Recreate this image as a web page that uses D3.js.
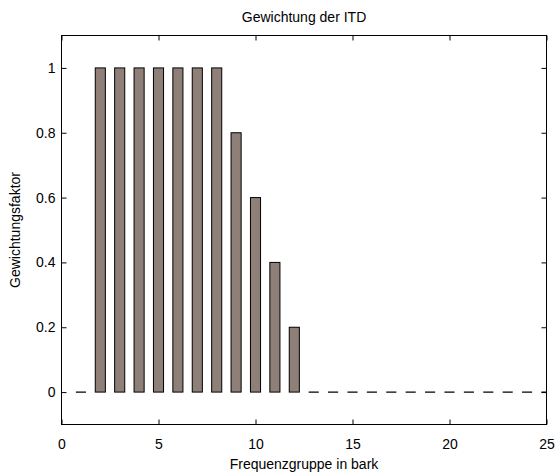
<!DOCTYPE html>
<html>
<head>
<meta charset="utf-8">
<script src="https://cdn.jsdelivr.net/npm/d3@7"></script>
<style>
  body { margin: 0; background: #fff; }
  svg text { font-family: "Liberation Sans", Arial, sans-serif; font-size: 14px; fill: #000; }
</style>
</head>
<body>
<svg id="chart" width="555" height="472"></svg>
<script>
// Frequenzgruppen (bark) und Gewichtungsfaktoren
const bands = [1, 2, 3, 4, 5, 6, 7, 8, 9, 10, 11, 12, 13, 14, 15, 16, 17, 18, 19, 20, 21, 22, 23, 24, 25];
const weights = [0, 1, 1, 1, 1, 1, 1, 1, 0.8, 0.6, 0.4, 0.2, 0, 0, 0, 0, 0, 0, 0, 0, 0, 0, 0, 0, 0];
const xTicks = [0, 5, 10, 15, 20, 25];
const yTicks = [0, 0.2, 0.4, 0.6, 0.8, 1];

const margin = { top: 35.5, right: 8.5, bottom: 47.5, left: 61.5 };
const width = 555 - margin.left - margin.right;
const height = 472 - margin.top - margin.bottom;

const svg = d3.select('#chart');
const g = svg.append('g').attr('transform', `translate(${margin.left},${margin.top})`);

const x = d3.scaleLinear().domain([0, 25]).range([0, width]);
const y = d3.scaleLinear().domain([-0.1, 1.1]).range([height, 0]);

const barW = x(0.52) - x(0);

g.append('clipPath').attr('id', 'clip')
  .append('rect').attr('width', width).attr('height', height);

// bars (zero-height bars show up as short dashes at y = 0)
const bars = g.append('g').attr('clip-path', 'url(#clip)');
bands.forEach((b, i) => {
  const v = weights[i];
  if (v === 0) {
    bars.append('line')
      .attr('x1', x(b) - barW / 2).attr('x2', x(b) + barW / 2)
      .attr('y1', y(0)).attr('y2', y(0))
      .attr('stroke', '#000').attr('stroke-width', 1.3);
  } else {
    bars.append('rect')
      .attr('x', x(b) - barW / 2)
      .attr('y', y(v))
      .attr('width', barW)
      .attr('height', y(0) - y(v))
      .attr('fill', '#8e8079')
      .attr('stroke', '#000')
      .attr('stroke-width', 1);
  }
});

// axes with inward ticks, mirrored on top and right
const tick = 5;
const axisStyle = sel => {
  sel.select('.domain').remove();
  sel.selectAll('.tick line').attr('stroke', '#000');
};
g.append('g').attr('transform', `translate(0,${height})`)
  .call(d3.axisBottom(x).tickValues(xTicks).tickSize(-tick).tickPadding(15).tickFormat(d3.format('d')))
  .call(axisStyle);
g.append('g')
  .call(d3.axisTop(x).tickValues(xTicks).tickSize(-tick).tickFormat(''))
  .call(axisStyle);
g.append('g')
  .call(d3.axisLeft(y).tickValues(yTicks).tickSize(-tick).tickPadding(6).tickFormat(d => String(d)))
  .call(axisStyle);
g.append('g').attr('transform', `translate(${width},0)`)
  .call(d3.axisRight(y).tickValues(yTicks).tickSize(-tick).tickFormat(''))
  .call(axisStyle);
g.selectAll('.tick text').style('font-family', '"Liberation Sans", Arial, sans-serif').style('font-size', '14px');

g.append('rect')
  .attr('width', width).attr('height', height)
  .attr('fill', 'none').attr('stroke', '#000').attr('stroke-width', 1);

// labels
svg.append('text')
  .attr('x', margin.left + width / 2).attr('y', 22)
  .attr('text-anchor', 'middle')
  .text('Gewichtung der ITD');
svg.append('text')
  .attr('x', margin.left + width / 2).attr('y', 468.5)
  .attr('text-anchor', 'middle')
  .text('Frequenzgruppe in bark');
svg.append('text')
  .attr('transform', `translate(20,${margin.top + height / 2}) rotate(-90)`)
  .attr('text-anchor', 'middle')
  .text('Gewichtungsfaktor');
</script>
</body>
</html>
